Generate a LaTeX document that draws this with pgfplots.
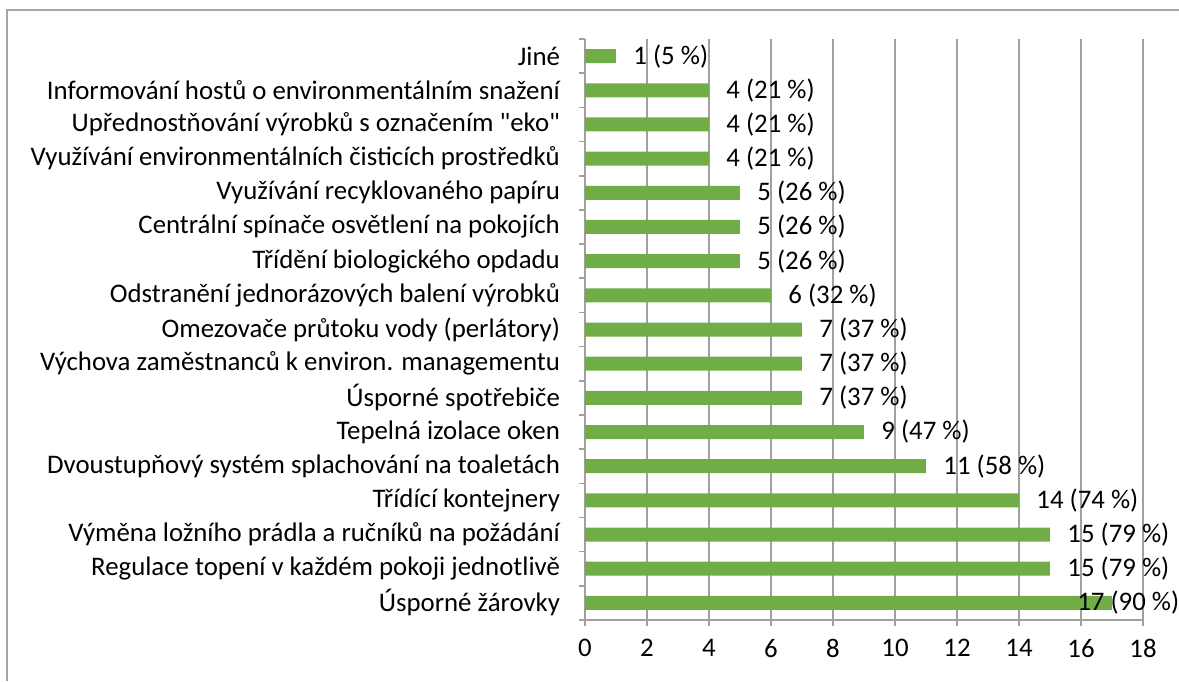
\documentclass[border=0pt]{standalone}
\usepackage{fontspec}
\setmainfont{Carlito}[Ligatures=TeXOff]
\usepackage{pgfplots}
\pgfplotsset{compat=1.18}
\definecolor{barGreen}{HTML}{70AD47}
\definecolor{gridGray}{HTML}{A0A0A0}
\definecolor{frameGray}{HTML}{A6A6A6}
\newcommand{\lblfont}{\fontsize{13.4}{16}\selectfont}

\begin{document}
\begin{tikzpicture}
  \useasboundingbox (0,0) rectangle (589.5pt,340.5pt);
  \draw[frameGray, line width=1pt] (3.5pt,0) -- (3.5pt,335.5pt) -- (589.5pt,335.5pt);
  \begin{axis}[
    at={(292.5pt,30.5pt)}, anchor=south west,
    scale only axis, width=279pt, height=290.5pt,
    clip=false,
    xmin=0, xmax=18, xtick={0,2,...,18},
    ymin=-0.5, ymax=16.5, y dir=reverse,
    ytick={0,...,16},
    yticklabels={
      {Jiné},
      {Informování hostů o environmentálním snažení},
      {Upřednostňování výrobků s označením "eko"},
      {Využívání environmentálních čisticích prostředků},
      {Využívání recyklovaného papíru},
      {Centrální spínače osvětlení na pokojích},
      {Třídění biologického opdadu},
      {Odstranění jednorázových balení výrobků},
      {Omezovače průtoku vody (perlátory)},
      {Výchova zaměstnanců k environ. managementu},
      {Úsporné spotřebiče},
      {Tepelná izolace oken},
      {Dvoustupňový systém splachování na toaletách},
      {Třídící kontejnery},
      {Výměna ložního prádla a ručníků na požádání},
      {Regulace topení v každém pokoji jednotlivě},
      {Úsporné žárovky}
    },
    extra y ticks={-0.5,0.5,...,16.5},
    extra y tick labels={},
    extra y tick style={ytick style={draw=gridGray, line width=0.8pt}},
    ytick style={draw=none},
    axis x line*=bottom, axis y line*=left,
    axis line style={gridGray, line width=0.8pt, -},
    xmajorgrids, grid style={gridGray, line width=0.8pt},
    tick align=outside, major tick length=3pt,
    xtick style={draw=gridGray, line width=0.8pt},
    /pgf/number format/assume math mode=true,
    ticklabel style={font=\lblfont, text=black},
    xticklabel style={yshift=-3pt},
    yticklabel style={xshift=-6pt},
  ]
    \addplot[xbar, bar width=7pt, bar shift=0pt, fill=barGreen, draw=none] coordinates {
      (1,0) (4,1) (4,2) (4,3) (5,4) (5,5) (5,6) (6,7) (7,8) (7,9) (7,10)
      (9,11) (11,12) (14,13) (15,14) (15,15) (17,16)
    };
    \addplot[draw=none, mark=none, nodes near coords, point meta=explicit symbolic,
      every node near coord/.style={anchor=west, inner sep=0pt, font=\lblfont, text=black}]
      coordinates {
      (1.55,0) [{1 (5 \%)}]
      (4.55,1) [{4 (21 \%)}]
      (4.55,2) [{4 (21 \%)}]
      (4.55,3) [{4 (21 \%)}]
      (5.55,4) [{5 (26 \%)}]
      (5.55,5) [{5 (26 \%)}]
      (5.55,6) [{5 (26 \%)}]
      (6.55,7) [{6 (32 \%)}]
      (7.55,8) [{7 (37 \%)}]
      (7.55,9) [{7 (37 \%)}]
      (7.55,10) [{7 (37 \%)}]
      (9.55,11) [{9 (47 \%)}]
      (11.55,12) [{11 (58 \%)}]
      (14.55,13) [{14 (74 \%)}]
      (15.55,14) [{15 (79 \%)}]
      (15.55,15) [{15 (79 \%)}]
      (15.87,16) [{17 (90 \%)}]
    };
  \end{axis}
\end{tikzpicture}
\end{document}
